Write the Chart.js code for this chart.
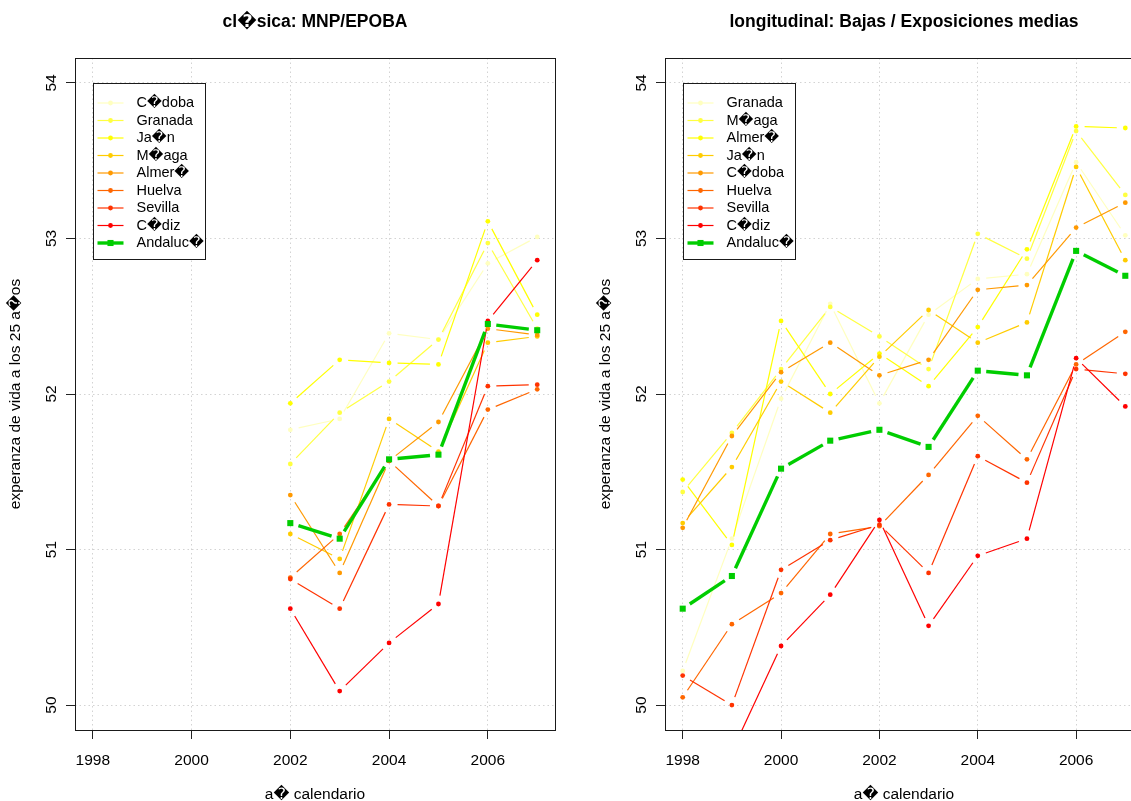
<!DOCTYPE html>
<html>
<head>
<meta charset="utf-8">
<title>Esperanza de vida a los 25 años</title>
<script src="https://cdn.jsdelivr.net/npm/chart.js@4.4.1/dist/chart.umd.min.js"></script>
<style>
  html, body { margin: 0; padding: 0; background: #fff; overflow: hidden; }
  canvas { position: absolute; top: 0; }
  #cvClasica { left: 0; }
  #cvLongitudinal { left: 590px; }
</style>
</head>
<body>
<canvas id="cvClasica" width="565" height="801"></canvas>
<canvas id="cvLongitudinal" width="563" height="801"></canvas>
<script>
// Años y marcas de los ejes
const anos = [1998, 1999, 2000, 2001, 2002, 2003, 2004, 2005, 2006, 2007];
const ticksX = [1998, 2000, 2002, 2004, 2006];
const ticksY = [50, 51, 52, 53, 54];

// heat.colors(8) al revés, el verde es Andalucía
const coloresProv = ['#FFFFBF', '#FFFF40', '#FFFF00', '#FFCC00', '#FF9900', '#FF6600', '#FF3300', '#FF0000'];
const colorAndalucia = '#00CD00';

// Textos (tal como salen del dispositivo)
const tituloClasica = 'cl\uFFFDsica: MNP/EPOBA';
const tituloLongitudinal = 'longitudinal: Bajas / Exposiciones medias';
const tituloEjeX = 'a\uFFFD calendario';
const tituloEjeY = 'experanza de vida a los 25 a\uFFFDos';

// ---- Panel 1: clásica (solo 2002-2007) ----
const nombresClasica = ['C\uFFFDdoba', 'Granada', 'Ja\uFFFDn', 'M\uFFFDaga', 'Almer\uFFFD', 'Huelva', 'Sevilla', 'C\uFFFDdiz', 'Andaluc\uFFFD'];
const clasCordoba   = [null, null, null, null, 51.77, 51.84, 52.39, 52.35, 52.84, 53.01];
const clasGranada   = [null, null, null, null, 51.55, 51.88, 52.08, 52.35, 52.97, 52.42];
const clasJaen      = [null, null, null, null, 51.94, 52.22, 52.20, 52.19, 53.11, 52.51];
const clasMalaga    = [null, null, null, null, 51.10, 50.94, 51.84, 51.63, 52.33, 52.37];
const clasAlmeria   = [null, null, null, null, 51.35, 50.85, 51.57, 51.82, 52.42, 52.38];
const clasHuelva    = [null, null, null, null, 50.82, 51.10, 51.57, 51.28, 51.90, 52.03];
const clasSevilla   = [null, null, null, null, 50.81, 50.62, 51.29, 51.28, 52.05, 52.06];
const clasCadiz     = [null, null, null, null, 50.62, 50.09, 50.40, 50.65, 52.47, 52.86];
const clasAndalucia = [null, null, null, null, 51.17, 51.07, 51.58, 51.61, 52.45, 52.41];

// ---- Panel 2: longitudinal (1998-2007) ----
const nombresLong = ['Granada', 'M\uFFFDaga', 'Almer\uFFFD', 'Ja\uFFFDn', 'C\uFFFDdoba', 'Huelva', 'Sevilla', 'C\uFFFDdiz', 'Andaluc\uFFFD'];
const longGranada   = [50.22, 51.07, 51.97, 52.58, 51.94, 52.51, 52.74, 52.77, 53.49, 53.02];
const longMalaga    = [51.37, 51.75, 52.16, 52.56, 52.37, 52.16, 53.03, 52.87, 53.69, 53.28];
const longAlmeria   = [51.45, 51.03, 52.47, 52.00, 52.26, 52.05, 52.43, 52.93, 53.72, 53.71];
const longJaen      = [51.17, 51.53, 52.08, 51.88, 52.24, 52.54, 52.33, 52.46, 53.46, 52.86];
const longCordoba   = [51.14, 51.73, 52.14, 52.33, 52.12, 52.22, 52.67, 52.70, 53.07, 53.23];
const longHuelva    = [50.05, 50.52, 50.72, 51.10, 51.15, 51.48, 51.86, 51.58, 52.19, 52.40];
const longSevilla   = [50.19, 50.00, 50.87, 51.06, 51.16, 50.85, 51.60, 51.43, 52.16, 52.13];
const longCadiz     = [49.55, 49.70, 50.38, 50.71, 51.19, 50.51, 50.96, 51.07, 52.23, 51.92];
const longAndalucia = [50.62, 50.83, 51.52, 51.70, 51.77, 51.66, 52.15, 52.12, 52.92, 52.76];

const fuente = "'Liberation Sans', 'DejaVu Sans', Arial, sans-serif";
Chart.defaults.font.family = fuente;
Chart.defaults.color = '#000';

// rango con el 4% extra a cada lado, como hace R
function extender(lo, hi) {
  const d = (hi - lo) * 0.04;
  return [lo - d, hi + d];
}
const limX = extender(anos[0], anos[anos.length - 1]);
const limY = extender(ticksY[0], ticksY[ticksY.length - 1]);

function armarSeries(nombres, tabla) {
  const n = nombres.length;
  return nombres.map((nombre, i) => {
    const esAnd = i === n - 1;
    const color = esAnd ? colorAndalucia : coloresProv[i];
    return {
      label: nombre,
      data: anos.map((a, j) => ({ x: a, y: tabla[i][j] })).filter(p => p.y !== null),
      borderColor: color,
      backgroundColor: color,
      borderWidth: esAnd ? 3.4 : 1.2,
      showLine: false,
      pointStyle: esAnd ? 'rect' : 'circle',
      pointRadius: esAnd ? 4.3 : 2.4,
      pointHoverRadius: esAnd ? 4.3 : 2.4,
      pointBorderWidth: 0,
      order: n - 1 - i, // la última serie queda encima
      hueco: 8.5
    };
  });
}

// líneas tipo "b": segmentos cortados antes de llegar a cada punto
const lineasConHueco = {
  id: 'lineasConHueco',
  beforeDatasetDraw(chart, args) {
    const ds = chart.data.datasets[args.index];
    const pts = args.meta.data;
    const a = chart.chartArea;
    const ctx = chart.ctx;
    ctx.save();
    ctx.beginPath();
    ctx.rect(a.left, a.top, a.right - a.left, a.bottom - a.top);
    ctx.clip();
    ctx.strokeStyle = ds.borderColor;
    ctx.lineWidth = ds.borderWidth;
    ctx.lineCap = 'butt';
    for (let j = 1; j < pts.length; j++) {
      const p = pts[j - 1], q = pts[j];
      const dx = q.x - p.x, dy = q.y - p.y;
      const d = Math.hypot(dx, dy);
      if (d <= 2 * ds.hueco) continue;
      const ux = dx / d, uy = dy / d;
      ctx.beginPath();
      ctx.moveTo(p.x + ux * ds.hueco, p.y + uy * ds.hueco);
      ctx.lineTo(q.x - ux * ds.hueco, q.y - uy * ds.hueco);
      ctx.stroke();
    }
    ctx.restore();
  }
};

// marco del gráfico y leyenda en la esquina superior izquierda
const cajaYLeyenda = {
  id: 'cajaYLeyenda',
  afterDraw(chart, args, opts) {
    const ctx = chart.ctx;
    const a = chart.chartArea;
    ctx.save();
    ctx.strokeStyle = '#1a1a1a';
    ctx.lineWidth = 1;
    ctx.strokeRect(Math.round(a.left) + 0.5, Math.round(a.top) + 0.5,
      Math.round(a.right - a.left), Math.round(a.bottom - a.top));

    const x0 = Math.round(chart.scales.x.getPixelForValue(opts.x)) + 0.5;
    const y0 = Math.round(chart.scales.y.getPixelForValue(opts.y)) + 0.5;
    const ancho = 112, alto = 176, paso = 17.5;
    ctx.fillStyle = '#fff';
    ctx.fillRect(x0, y0, ancho, alto);
    ctx.strokeStyle = '#1a1a1a';
    ctx.strokeRect(x0, y0, ancho, alto);

    ctx.font = '14.5px ' + fuente;
    ctx.textBaseline = 'middle';
    ctx.textAlign = 'left';
    chart.data.datasets.forEach((ds, i) => {
      const y = y0 + 19.5 + i * paso;
      ctx.strokeStyle = ds.borderColor;
      ctx.lineWidth = ds.borderWidth;
      ctx.beginPath();
      ctx.moveTo(x0 + 4, y);
      ctx.lineTo(x0 + 30, y);
      ctx.stroke();
      ctx.fillStyle = ds.backgroundColor;
      if (ds.pointStyle === 'rect') {
        const s = ds.pointRadius * Math.SQRT1_2;
        ctx.fillRect(x0 + 17 - s, y - s, 2 * s, 2 * s);
      } else {
        ctx.beginPath();
        ctx.arc(x0 + 17, y, ds.pointRadius, 0, Math.PI * 2);
        ctx.fill();
      }
      ctx.fillStyle = '#000';
      ctx.fillText(ds.label, x0 + 43, y);
    });
    ctx.restore();
  }
};

function opciones(titulo) {
  const rejilla = {
    color: '#D3D3D3',
    lineWidth: 1,
    tickLength: 9,
    tickColor: '#222',
    tickWidth: 1,
    tickBorderDash: []
  };
  return {
    responsive: false,
    animation: false,
    events: [],
    layout: { padding: { left: 0, right: 10, top: 0, bottom: 0 } },
    plugins: {
      legend: { display: false },
      tooltip: { enabled: false },
      title: {
        display: true,
        text: titulo,
        fullSize: false,
        color: '#000',
        font: { size: 17.5, weight: 'bold', lineHeight: 1.2 },
        padding: { top: 12, bottom: 25 }
      },
      cajaYLeyenda: { x: ticksX[0], y: ticksY[ticksY.length - 1] }
    },
    scales: {
      x: {
        type: 'linear',
        min: limX[0],
        max: limX[1],
        afterBuildTicks: s => { s.ticks = ticksX.map(v => ({ value: v })); },
        afterFit: s => { s.height = 71; },
        grid: rejilla,
        border: { display: false, dash: [1.5, 3] },
        ticks: {
          autoSkip: false,
          maxRotation: 0,
          padding: 12,
          color: '#000',
          font: { size: 15.5 },
          callback: v => String(v)
        },
        title: {
          display: true,
          text: tituloEjeX,
          color: '#000',
          font: { size: 15.5, lineHeight: 0.8 },
          padding: { top: 0, bottom: 0 }
        }
      },
      y: {
        type: 'linear',
        min: limY[0],
        max: limY[1],
        afterBuildTicks: s => { s.ticks = ticksY.map(v => ({ value: v })); },
        afterFit: s => { s.width = 75; },
        grid: rejilla,
        border: { display: false, dash: [1.5, 3] },
        ticks: {
          minRotation: 90,
          maxRotation: 90,
          crossAlign: 'center',
          padding: 6,
          color: '#000',
          font: { size: 15.5 },
          callback: v => String(v)
        },
        title: {
          display: true,
          text: tituloEjeY,
          color: '#000',
          font: { size: 15.5, lineHeight: 1.2 },
          padding: { top: 6, bottom: 0 }
        }
      }
    }
  };
}

new Chart(document.getElementById('cvClasica'), {
  type: 'line',
  data: {
    datasets: armarSeries(nombresClasica, [clasCordoba, clasGranada, clasJaen, clasMalaga,
      clasAlmeria, clasHuelva, clasSevilla, clasCadiz, clasAndalucia])
  },
  options: opciones(tituloClasica),
  plugins: [lineasConHueco, cajaYLeyenda]
});

new Chart(document.getElementById('cvLongitudinal'), {
  type: 'line',
  data: {
    datasets: armarSeries(nombresLong, [longGranada, longMalaga, longAlmeria, longJaen,
      longCordoba, longHuelva, longSevilla, longCadiz, longAndalucia])
  },
  options: opciones(tituloLongitudinal),
  plugins: [lineasConHueco, cajaYLeyenda]
});
</script>
</body>
</html>
